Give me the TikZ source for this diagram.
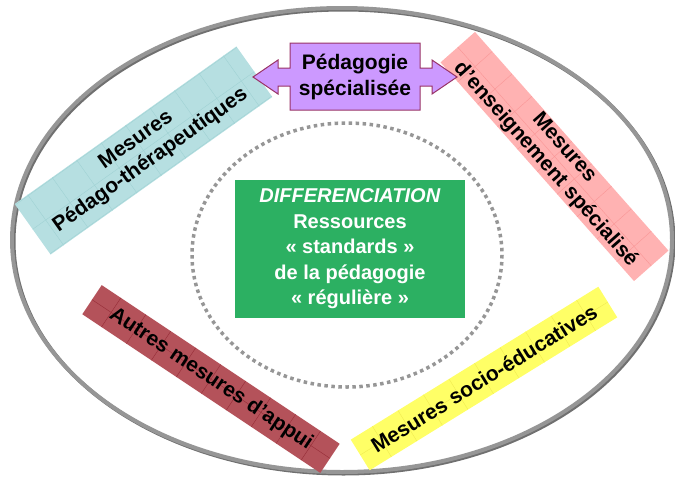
\documentclass[tikz,border=0pt]{standalone}
\usepackage{fontspec}
\setmainfont{Liberation Sans}
\usetikzlibrary{positioning}

\definecolor{ringgray}{RGB}{150,150,150}
\definecolor{diffgreen}{RGB}{44,176,98}
\definecolor{pedfill}{RGB}{204,153,255}
\definecolor{pedline}{RGB}{153,51,102}
\definecolor{cyanfill}{RGB}{182,223,225}
\definecolor{cyanline}{RGB}{160,210,212}
\definecolor{pinkfill}{RGB}{255,178,178}
\definecolor{pinkline}{RGB}{250,150,150}
\definecolor{redfill}{RGB}{180,82,90}
\definecolor{redline}{RGB}{150,45,55}
\definecolor{yelfill}{RGB}{255,255,102}
\definecolor{yelline}{RGB}{240,235,80}

\tikzset{
	bandtext/.style={transform shape,align=center,font=\bfseries\fontsize{21}{25}\selectfont,inner sep=0pt},
	difftext/.style={align=center,text=white,font=\bfseries\fontsize{20}{25.5}\selectfont}
}

% band: center, angle, length, width, name, fill, grid colour, text
\newcommand{\drawband}[8]
{\begin{scope}[shift={#1},rotate=#2]
	\fill [#6] (-#3/2,-#4/2) rectangle (#3/2,#4/2);
	\begin{scope}
	\clip (-#3/2,-#4/2) rectangle (#3/2,#4/2);
	\foreach \g in {-150,-120,...,150}
		{\draw [#7,line width=0.4pt] (\g,-40)--(\g,40);
			};
	\foreach \g in {-30,0,30}
		{\draw [#7,line width=0.4pt] (-160,\g)--(160,\g);
			};
	\end{scope}
	\node [bandtext] (#5) at (0,0) {#8};
\end{scope}
}

\begin{document}
\begin{tikzpicture}[x=1pt,y=-1pt,>=latex]
\useasboundingbox (0,0) rectangle (675,477);

% outer ring
\draw [ringgray!75!black,line width=4pt] (343.5,241.5) ellipse (330 and 232);
\draw [ringgray,line width=4pt] (342,240) ellipse (330 and 232);

% inner dotted circle
\draw [ringgray,line width=3.5pt,dash pattern=on 3.5pt off 3.5pt] (347,255) ellipse (155 and 132);

% centre
\fill [diffgreen] (235,180) rectangle (465,318);
\node [difftext] (diff) at (350,249) {\textit{DIFFERENCIATION}\\Ressources\\« standards »\\de la pédagogie\\« régulière »};

% bands
\drawband{(143.5,150.5)}{35.4}{272}{62}{medther}{cyanfill}{cyanline}{Mesures\\Pédago-thérapeutiques}
\drawband{(554.5,156.5)}{-48.5}{292}{46}{enspec}{pinkfill}{pinkline}{Mesures\\d’enseignement spécialisé}
\drawband{(211,379)}{-33.7}{286}{35}{autres}{redfill}{redline}{Autres mesures d’appui}
\drawband{(484,378.5)}{31.7}{291}{36}{socio}{yelfill}{yelline}{Mesures socio-éducatives}

% double arrow callout
\filldraw [fill=pedfill,draw=pedline,line width=1pt] (253,77) -- (278,60) -- (278,68) -- (290,68) -- (290,43) -- (420,43) -- (420,68) -- (432,68) -- (432,60) -- (457,77) -- (432,94) -- (432,86) -- (420,86) -- (420,110) -- (290,110) -- (290,86) -- (278,86) -- (278,94) -- cycle;
\node [align=center,font=\bfseries\fontsize{21}{26}\selectfont] (pedspec) at (355,77) {Pédagogie\\spécialisée};
\end{tikzpicture}
\end{document}
